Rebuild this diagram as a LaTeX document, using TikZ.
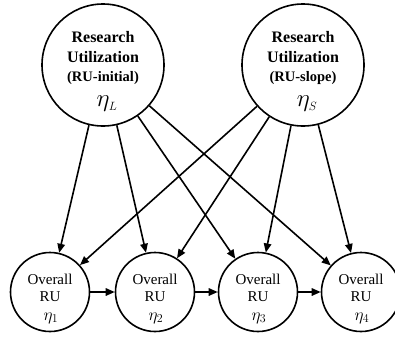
\documentclass[tikz,border=0pt]{standalone}
\usepackage{fontspec}
\setmainfont{Liberation Serif}
\usetikzlibrary{arrows.meta}
\begin{document}
\begin{tikzpicture}[x=1pt,y=-1pt,
  bigcirc/.style={circle,draw,line width=1.6pt,minimum size=122pt,inner sep=0pt},
  smallcirc/.style={circle,draw,line width=1.6pt,minimum size=79pt,inner sep=0pt},
  toptext/.style={align=center,font=\bfseries\fontsize{16}{19.5}\selectfont,inner sep=0pt},
  bottext/.style={align=center,font=\fontsize{15}{16.5}\selectfont,inner sep=0pt},
  link/.style={line width=1.6pt,-{Triangle[length=9pt,width=7.5pt]}}]
  \useasboundingbox (0,0) rectangle (395,338);

  % latent growth factors
  \node[bigcirc] (L) at (103,65) {};
  \node[bigcirc] (S) at (303,65) {};
  \node[toptext] (Ltxt) at (103,58) {Research\\Utilization\\{\fontsize{14.5}{19.5}\selectfont (RU-initial)}};
  \node[inner sep=0pt] (Lsym) at (107,104) {\fontsize{24}{24}\selectfont$\eta_{\scriptscriptstyle L}$};
  \node[toptext] (Stxt) at (303,58) {Research\\Utilization\\{\fontsize{14.5}{19.5}\selectfont (RU-slope)}};
  \node[inner sep=0pt] (Ssym) at (307,104) {\fontsize{24}{24}\selectfont$\eta_{\scriptscriptstyle S}$};

  % repeated measures
  \foreach \i/\x in {1/50,2/155,3/258,4/361}{
    \node[smallcirc] (E\i) at (\x,292) {};
    \node[bottext] (E\i txt) at (\x,288) {Overall\\RU};
    \node[inner sep=0pt] (E\i sym) at (\x+1,318) {\fontsize{18}{18}\selectfont$\eta_{\i}$};
  }

  % loadings
  \foreach \i in {1,2,3,4}{
    \draw[link] (L) -- (E\i);
    \draw[link] (S) -- (E\i);
  }

  % autoregressive paths
  \draw[link] (E1) -- (E2);
  \draw[link] (E2) -- (E3);
  \draw[link] (E3) -- (E4);
\end{tikzpicture}
\end{document}
